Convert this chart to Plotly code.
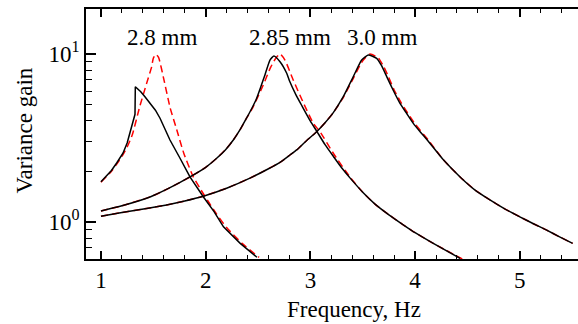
import math
import plotly.graph_objects as go

# ---- data ----
# 2.8 mm: simulation (black) and model (red dashed)
a_sim_f = [1.00, 1.05, 1.10, 1.15, 1.21, 1.25, 1.29, 1.31, 1.325, 1.328, 1.38, 1.42, 1.468, 1.52, 1.564, 1.61, 1.659, 1.755, 1.85, 1.977, 2.08, 2.17, 2.25, 2.33, 2.49]
a_sim_v = [1.73, 1.86, 2.02, 2.24, 2.56, 2.95, 3.63, 4.07, 4.37, 6.38, 5.96, 5.56, 5.08, 4.62, 4.14, 3.59, 3.07, 2.39, 1.85, 1.41, 1.15, 0.933, 0.832, 0.743, 0.614]
a_mod_f = [1.00, 1.10, 1.20, 1.25, 1.30, 1.37, 1.436, 1.484, 1.50, 1.525, 1.55, 1.60, 1.66, 1.723, 1.79, 1.88, 1.946, 2.025, 2.10, 2.20, 2.35, 2.51]
a_mod_v = [1.72, 2.00, 2.45, 2.79, 3.31, 4.85, 6.68, 8.39, 9.44, 9.95, 9.55, 7.08, 4.79, 3.55, 2.57, 1.86, 1.58, 1.32, 1.12, 0.923, 0.741, 0.614]
# 2.85 mm
b_sim_f = [1.00, 1.20, 1.474, 1.65, 1.85, 2.00, 2.105, 2.19, 2.264, 2.33, 2.39, 2.44, 2.487, 2.53, 2.566, 2.614, 2.652, 2.71, 2.774, 2.80, 2.86, 2.92, 3.00, 3.06, 3.14, 3.22, 3.30, 3.38, 3.50, 3.62, 3.75, 3.88, 4.00, 4.174, 4.43]
b_sim_v = [1.16, 1.245, 1.41, 1.585, 1.85, 2.11, 2.39, 2.69, 3.07, 3.55, 4.14, 4.73, 5.45, 6.46, 7.50, 9.20, 9.73, 8.99, 7.67, 6.92, 5.75, 4.90, 3.98, 3.47, 2.88, 2.45, 2.09, 1.82, 1.50, 1.27, 1.10, 0.966, 0.861, 0.743, 0.605]
b_mod_f = [1.00, 1.20, 1.474, 1.65, 1.85, 2.00, 2.105, 2.19, 2.264, 2.33, 2.39, 2.45, 2.55, 2.62, 2.67, 2.71, 2.757, 2.836, 2.932, 3.028, 3.092, 3.219, 3.38, 3.50, 3.62, 3.75, 3.88, 4.00, 4.174, 4.45]
b_mod_v = [1.16, 1.245, 1.41, 1.585, 1.85, 2.11, 2.39, 2.69, 3.07, 3.55, 4.14, 4.79, 6.53, 8.32, 9.44, 10.0, 9.20, 7.00, 5.13, 3.86, 3.44, 2.56, 1.84, 1.50, 1.27, 1.10, 0.966, 0.861, 0.743, 0.600]
# 3.0 mm
c_sim_f = [1.00, 1.20, 1.436, 1.627, 1.80, 1.977, 2.20, 2.423, 2.60, 2.71, 2.805, 2.869, 2.95, 3.06, 3.14, 3.219, 3.314, 3.41, 3.49, 3.553, 3.633, 3.68, 3.729, 3.79, 3.856, 3.92, 3.983, 4.05, 4.12, 4.27, 4.43, 4.57, 4.715, 4.86, 5.00, 5.13, 5.257, 5.38, 5.505]
c_sim_v = [1.08, 1.135, 1.20, 1.26, 1.33, 1.42, 1.585, 1.82, 2.07, 2.26, 2.50, 2.68, 2.99, 3.44, 3.89, 4.47, 5.56, 7.33, 9.20, 9.86, 9.42, 8.51, 7.33, 6.10, 5.08, 4.42, 3.86, 3.43, 3.05, 2.34, 1.85, 1.55, 1.35, 1.19, 1.07, 0.973, 0.891, 0.813, 0.743]
c_mod_f = [1.00, 1.20, 1.436, 1.627, 1.80, 1.977, 2.20, 2.423, 2.60, 2.71, 2.805, 2.869, 2.95, 3.06, 3.14, 3.219, 3.314, 3.41, 3.50, 3.57, 3.65, 3.70, 3.745, 3.80, 3.87, 3.995, 4.13, 4.27, 4.43, 4.57, 4.715, 4.86, 5.00, 5.13, 5.257, 5.38, 5.505]
c_mod_v = [1.08, 1.135, 1.20, 1.26, 1.33, 1.42, 1.585, 1.82, 2.07, 2.26, 2.50, 2.68, 2.99, 3.44, 3.89, 4.47, 5.50, 7.16, 9.12, 10.0, 9.44, 8.41, 7.33, 6.10, 5.08, 3.86, 3.05, 2.34, 1.85, 1.55, 1.35, 1.19, 1.07, 0.973, 0.891, 0.813, 0.743]

labels = ["2.8 mm", "2.85 mm", "3.0 mm"]
label_f = [1.583, 2.805, 3.684]
label_v = [12.6, 12.6, 12.6]

x_ticks = [1, 2, 3, 4, 5]
y_ticks = [1, 10]
y_ticktext = ["10<sup>0</sup>", "10<sup>1</sup>"]
y_minor = [0.7, 0.8, 0.9, 2, 3, 4, 5, 6, 7, 8, 9]

FONT = "Liberation Serif"

fig = go.Figure()
for f, v in [(a_mod_f, a_mod_v), (b_mod_f, b_mod_v), (c_mod_f, c_mod_v)]:
    fig.add_trace(go.Scatter(x=f, y=v, mode="lines",
                             line=dict(color="#ff0000", width=1.5, dash="7px,4px", shape="spline", smoothing=0.5),
                             showlegend=False, hoverinfo="skip"))
for f, v, shp in [(a_sim_f, a_sim_v, "linear"), (b_sim_f, b_sim_v, "spline"), (c_sim_f, c_sim_v, "spline")]:
    fig.add_trace(go.Scatter(x=f, y=v, mode="lines",
                             line=dict(color="black", width=1.5, shape=shp, smoothing=0.5),
                             showlegend=False, hoverinfo="skip"))

for t, xf, yv in zip(labels, label_f, label_v):
    fig.add_annotation(x=xf, y=math.log10(yv), text=t, showarrow=False,
                       font=dict(family=FONT, size=23, color="black"),
                       xanchor="center", yanchor="middle")

fig.add_annotation(xref="paper", yref="paper", x=(354 - 86) / 492, y=(259 - 309.5) / 250,
                   text="Frequency, Hz", showarrow=False,
                   font=dict(family=FONT, size=23, color="black"), xanchor="center", yanchor="middle")
fig.add_annotation(xref="paper", yref="paper", x=(23.5 - 86) / 492, y=(259 - 130) / 250,
                   text="Variance gain", showarrow=False, textangle=-90,
                   font=dict(family=FONT, size=23, color="black"), xanchor="center", yanchor="middle")

fig.update_layout(
    width=578, height=324,
    margin=dict(l=86, r=0, t=9, b=65),
    paper_bgcolor="white", plot_bgcolor="white",
    font=dict(family=FONT, size=23, color="black"),
    xaxis=dict(range=[0.857, 5.556], tickvals=x_ticks, ticks="inside", ticklen=8, tickwidth=1.5,
               tickcolor="black", showline=True, linecolor="black", linewidth=1.5, mirror="ticks",
               showgrid=False, zeroline=False,
               minor=dict(ticks="inside", ticklen=4, tickwidth=1.2, tickcolor="black", dtick=0.2, tick0=0, showgrid=False)),
    yaxis=dict(type="log", range=[-0.222, 1.268], tickvals=y_ticks, ticktext=y_ticktext,
               ticks="inside", ticklen=10, tickwidth=1.5, tickcolor="black",
               showline=True, linecolor="black", linewidth=1.5, mirror=False,
               showgrid=False, zeroline=False,
               minor=dict(ticks="inside", ticklen=6, tickwidth=1.2, tickcolor="black", tickvals=y_minor, showgrid=False)),
)

fig.write_html("out.html")
